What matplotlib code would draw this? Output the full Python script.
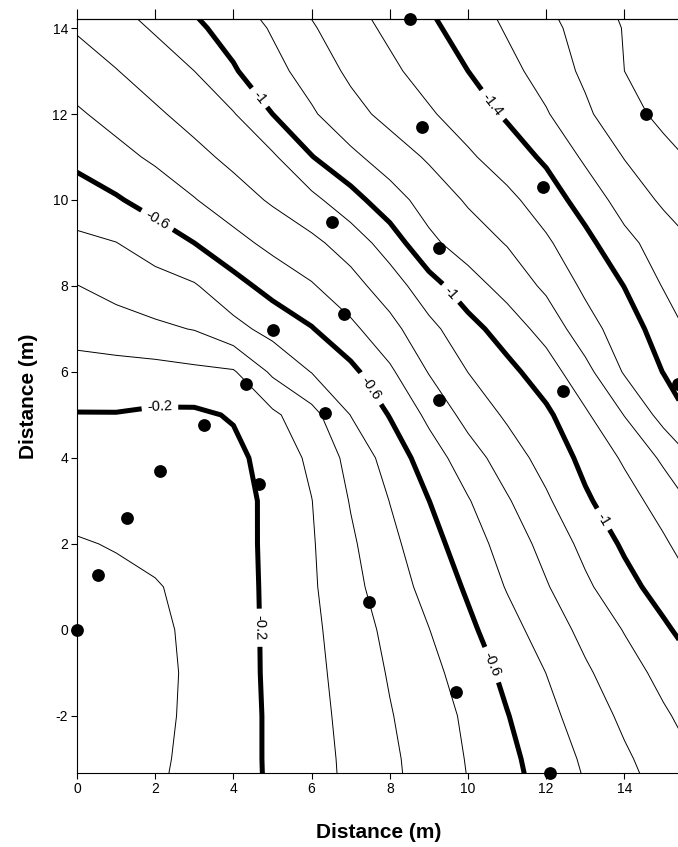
import numpy as np
import matplotlib
matplotlib.use('Agg')
import matplotlib.pyplot as plt

plt.rcParams['font.family'] = ['Liberation Sans', 'DejaVu Sans']
plt.rcParams['axes.unicode_minus'] = False

# grid (x = 0..16 m, y = -4..15 m)
grid_x = np.arange(0, 17)
grid_y = np.arange(-4, 16)
depth = np.array([
    [-0.064, -0.075, -0.093, -0.125, -0.165, -0.211, -0.263, -0.316, -0.376, -0.436, -0.497, -0.561, -0.627, -0.693, -0.756, -0.819, -0.881],
    [-0.063, -0.073, -0.090, -0.114, -0.165, -0.213, -0.265, -0.321, -0.382, -0.444, -0.506, -0.575, -0.645, -0.715, -0.785, -0.849, -0.913],
    [-0.062, -0.072, -0.088, -0.110, -0.165, -0.213, -0.269, -0.329, -0.394, -0.454, -0.517, -0.596, -0.671, -0.747, -0.820, -0.887, -0.950],
    [-0.062, -0.072, -0.088, -0.108, -0.165, -0.216, -0.274, -0.339, -0.408, -0.471, -0.544, -0.624, -0.701, -0.785, -0.858, -0.929, -1.000],
    [-0.065, -0.075, -0.088, -0.112, -0.165, -0.217, -0.280, -0.350, -0.425, -0.498, -0.579, -0.662, -0.746, -0.828, -0.905, -0.983, -1.061],
    [-0.075, -0.085, -0.092, -0.130, -0.165, -0.219, -0.287, -0.370, -0.452, -0.531, -0.614, -0.707, -0.792, -0.882, -0.966, -1.042, -1.114],
    [-0.095, -0.104, -0.130, -0.156, -0.168, -0.220, -0.291, -0.385, -0.474, -0.562, -0.652, -0.742, -0.833, -0.928, -1.015, -1.086, -1.173],
    [-0.122, -0.133, -0.140, -0.150, -0.165, -0.222, -0.298, -0.406, -0.502, -0.599, -0.693, -0.790, -0.885, -0.986, -1.059, -1.141, -1.240],
    [-0.159, -0.164, -0.165, -0.170, -0.175, -0.238, -0.320, -0.431, -0.540, -0.650, -0.754, -0.850, -0.938, -1.026, -1.114, -1.218, -1.333],
    [-0.196, -0.196, -0.185, -0.183, -0.208, -0.281, -0.366, -0.502, -0.605, -0.723, -0.834, -0.915, -0.981, -1.085, -1.203, -1.336, -1.440],
    [-0.256, -0.261, -0.266, -0.279, -0.290, -0.417, -0.503, -0.574, -0.683, -0.805, -0.901, -0.971, -1.052, -1.169, -1.309, -1.403, -1.500],
    [-0.343, -0.362, -0.382, -0.404, -0.470, -0.533, -0.594, -0.677, -0.768, -0.872, -0.964, -1.047, -1.137, -1.258, -1.353, -1.444, -1.550],
    [-0.398, -0.429, -0.460, -0.491, -0.565, -0.635, -0.691, -0.764, -0.850, -0.960, -1.057, -1.136, -1.219, -1.320, -1.402, -1.506, -1.569],
    [-0.475, -0.498, -0.548, -0.600, -0.668, -0.727, -0.777, -0.844, -0.947, -1.078, -1.147, -1.206, -1.285, -1.372, -1.471, -1.548, -1.615],
    [-0.560, -0.590, -0.639, -0.695, -0.754, -0.813, -0.874, -0.962, -1.059, -1.140, -1.212, -1.275, -1.349, -1.442, -1.541, -1.616, -1.669],
    [-0.622, -0.669, -0.717, -0.770, -0.826, -0.885, -0.996, -1.078, -1.147, -1.213, -1.285, -1.349, -1.417, -1.517, -1.604, -1.676, -1.720],
    [-0.687, -0.735, -0.784, -0.838, -0.894, -1.000, -1.088, -1.165, -1.231, -1.288, -1.348, -1.413, -1.492, -1.581, -1.672, -1.720, -1.740],
    [-0.750, -0.796, -0.850, -0.900, -0.990, -1.070, -1.140, -1.220, -1.280, -1.340, -1.400, -1.470, -1.540, -1.620, -1.700, -1.740, -1.760],
    [-0.810, -0.860, -0.910, -0.980, -1.040, -1.110, -1.190, -1.260, -1.320, -1.380, -1.440, -1.510, -1.570, -1.640, -1.705, -1.740, -1.760],
    [-0.870, -0.920, -0.970, -1.040, -1.100, -1.160, -1.240, -1.300, -1.360, -1.420, -1.480, -1.550, -1.610, -1.670, -1.730, -1.760, -1.780],
])

# measurement points
well_x = [0, 0.54, 1.28, 2.12, 3.25, 4.65, 4.32, 5.01, 6.52, 6.83, 6.34,
          7.47, 9.69, 12.1, 9.26, 9.26, 8.82, 8.52, 11.92, 12.43, 14.55, 15.37]
well_y = [0, 1.28, 2.6, 3.7, 4.77, 3.4, 5.72, 6.98, 9.49, 7.35, 5.05,
          0.65, -1.44, -3.33, 5.35, 8.88, 11.7, 14.2, 10.3, 5.56, 12.0, 5.72]

bold_levels = [-1.4, -1.0, -0.6, -0.2]
thin_levels = [-1.7, -1.6, -1.5, -1.3, -1.2, -1.1, -0.9, -0.8, -0.7, -0.5, -0.4, -0.3, -0.1]

# where the labels sit on the bold lines
label_spots = [(2.12, 5.19), (4.72, 0.05), (2.05, 9.53), (7.54, 5.63), (10.61, -0.81),
               (4.65, 12.37), (9.51, 7.79), (13.43, 2.56), (10.61, 12.2)]

fig = plt.figure(figsize=(6.78, 8.47), dpi=100)
ax = fig.add_axes([77 / 678, 1 - 773 / 847, 601 / 678, 754 / 847])

ax.contour(grid_x, grid_y, depth, levels=thin_levels, colors='black',
           linewidths=0.7, linestyles='solid')
cs = ax.contour(grid_x, grid_y, depth, levels=bold_levels, colors='black',
                linewidths=3.6, linestyles='solid')
ax.clabel(cs, fmt=lambda v: f'{v:g}', fontsize=10.5, manual=label_spots,
          inline=True, inline_spacing=5)

ax.scatter(well_x, well_y, s=85, c='black', linewidths=0, zorder=5, clip_on=False)

ax.set_xlim(0, 15.37)
ax.set_ylim(-3.33, 14.21)
ax.set_xticks(range(0, 15, 2))
ax.set_yticks(range(-2, 15, 2))
ax.tick_params(direction='out', length=4.5, width=0.8, labelsize=10, pad=2)
ax.spines['right'].set_visible(False)
for s in ['left', 'bottom', 'top']:
    ax.spines[s].set_linewidth(0.8)

top = ax.secondary_xaxis('top')
top.set_xticks(range(0, 15, 2))
top.tick_params(direction='out', length=7, width=0.8, labeltop=False)
top.spines['top'].set_linewidth(0.8)

fig.text(379 / 678, 1 - 832 / 847, 'Distance (m)', ha='center', va='center',
         fontsize=15, fontweight='bold')
fig.text(28 / 678, 1 - 396 / 847, 'Distance (m)', ha='center', va='center',
         rotation=90, fontsize=15, fontweight='bold')

fig.savefig('out.png', dpi=100)
